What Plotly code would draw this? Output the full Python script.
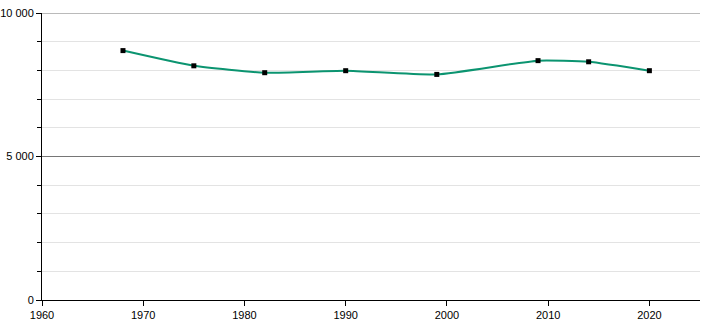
import plotly.graph_objects as go

years = [1968, 1975, 1982, 1990, 1999, 2009, 2014, 2020]
population = [8690, 8160, 7920, 7990, 7860, 8340, 8300, 7990]
y_tick_vals = [0, 5000, 10000]
y_tick_text = ["0", "5 000", "10 000"]
x_tick_vals = [1960, 1970, 1980, 1990, 2000, 2010, 2020]

fig = go.Figure()
fig.add_trace(go.Scatter(
    x=years, y=population, mode="lines+markers",
    line=dict(color="#0b9470", width=2, shape="spline", smoothing=0.5),
    marker=dict(symbol="square", size=5, color="black"),
    hoverinfo="x+y",
))

fig.update_layout(
    width=710, height=320,
    margin=dict(l=42, r=10, t=13, b=20),
    paper_bgcolor="white", plot_bgcolor="white",
    showlegend=False,
    font=dict(family="Liberation Sans, Arial, sans-serif", size=11, color="black"),
    xaxis=dict(
        range=[1960, 2025], tickvals=x_tick_vals, showgrid=False,
        showline=True, linecolor="black", linewidth=1, automargin=False,
        ticks="outside", ticklen=5, tickcolor="black", zeroline=False,
        tickfont=dict(size=11),
    ),
    yaxis=dict(
        range=[0, 10000], tickvals=y_tick_vals, ticktext=y_tick_text,
        showgrid=True, gridcolor="#767676", gridwidth=1, automargin=False,
        showline=True, linecolor="black", linewidth=1,
        ticks="outside", ticklen=5, tickcolor="black", zeroline=False,
        minor=dict(dtick=1000, showgrid=True, gridcolor="#e3e3e3",
                   ticks="outside", ticklen=4, tickcolor="black"),
        tickfont=dict(size=11),
    ),
    shapes=[dict(type="line", xref="paper", x0=0, x1=1, yref="y",
                 y0=y_tick_vals[-1], y1=y_tick_vals[-1],
                 line=dict(color="#767676", width=1), layer="below")],
)

fig.write_html("out.html")
